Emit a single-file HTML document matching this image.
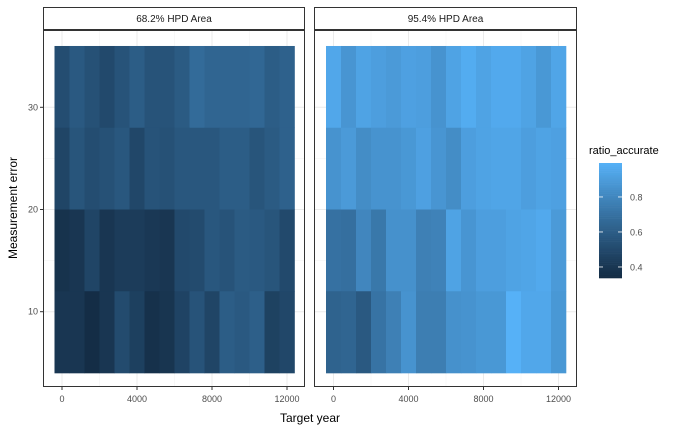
<!DOCTYPE html>
<html><head><meta charset="utf-8"><style>
body{margin:0;background:#fff;}
svg{display:block;font-family:"Liberation Sans",sans-serif;}
</style></head><body>
<svg id="c" width="700" height="432" xmlns="http://www.w3.org/2000/svg"></svg>
<script>
const years=[0,800,1600,2400,3200,4000,4800,5600,6400,7200,8000,8800,9600,10400,11200,12000];
const errors=[32,24,16,8];
const panels=["68.2% HPD Area","95.4% HPD Area"];
const vals68=[
[.52,.58,.54,.50,.55,.60,.55,.55,.59,.67,.64,.64,.64,.65,.60,.62],
[.48,.56,.52,.54,.57,.49,.55,.54,.57,.57,.57,.60,.60,.56,.59,.62],
[.38,.40,.48,.40,.43,.43,.41,.40,.50,.51,.57,.55,.59,.58,.56,.50],
[.40,.40,.35,.40,.51,.45,.37,.39,.47,.55,.48,.60,.58,.61,.46,.49]];
const vals95=[
[.95,.87,.93,.91,.89,.92,.91,.86,.93,.97,.93,.96,.96,.93,.88,.94],
[.86,.89,.83,.86,.86,.88,.92,.87,.83,.91,.93,.94,.94,.91,.93,.92],
[.70,.69,.80,.73,.85,.85,.77,.78,.93,.87,.91,.91,.93,.94,.96,.89],
[.63,.64,.58,.71,.77,.86,.76,.76,.85,.86,.88,.88,1.0,.95,.95,.88]];
const xTicks=[0,4000,8000,12000];
const yTicks=[10,20,30];
const legendTicks=[0.4,0.6,0.8];
const vmin=0.337,vmax=0.994;

const NS="http://www.w3.org/2000/svg";
const svg=document.getElementById('c');
function el(t,a,p){const e=document.createElementNS(NS,t);for(const k in a)e.setAttribute(k,a[k]);(p||svg).appendChild(e);return e;}
// Lab color interpolation
function h2r(h){return [1,3,5].map(i=>parseInt(h.substr(i,2),16)/255);}
function lin(c){return c<=0.04045?c/12.92:Math.pow((c+0.055)/1.055,2.4);}
function unlin(c){return c<=0.0031308?12.92*c:1.055*Math.pow(c,1/2.4)-0.055;}
function toLab(h){const [r,g,b]=h2r(h).map(lin);let X=(0.4124*r+0.3576*g+0.1805*b)/0.95047,Y=0.2126*r+0.7152*g+0.0722*b,Z=(0.0193*r+0.1192*g+0.9505*b)/1.08883;
 const f=t=>t>0.008856?Math.cbrt(t):7.787*t+16/116;const fx=f(X),fy=f(Y),fz=f(Z);return [116*fy-16,500*(fx-fy),200*(fy-fz)];}
function fromLab(L,a,b){const fy=(L+16)/116,fx=fy+a/500,fz=fy-b/200;const fi=t=>t*t*t>0.008856?t*t*t:(t-16/116)/7.787;
 const X=fi(fx)*0.95047,Y=fi(fy),Z=fi(fz)*1.08883;
 const r=3.2406*X-1.5372*Y-0.4986*Z,g=-0.9689*X+1.8758*Y+0.0415*Z,bb=0.0557*X-0.2040*Y+1.0570*Z;
 return 'rgb('+[r,g,bb].map(c=>Math.round(Math.max(0,Math.min(1,unlin(c)))*255)).join(',')+')';}
const lo=toLab('#132B43'),hi=toLab('#56B1F7');
function col(v){let t=(v-vmin)/(vmax-vmin);t=Math.max(0,Math.min(1,t));return fromLab(lo[0]+t*(hi[0]-lo[0]),lo[1]+t*(hi[1]-lo[1]),lo[2]+t*(hi[2]-lo[2]));}

const yS=v=>209.5-(v-20)*10.22;
const panelX=[{x0:43,x1:305,z:62},{x0:314,x1:577,z:333.5}];
const pxPerYr=0.01875;
const data=[vals68,vals95];
panelX.forEach((p,pi)=>{
 const xS=v=>p.z+v*pxPerYr;
 const g=el('g',{});
 el('rect',{x:p.x0,y:30,width:p.x1-p.x0,height:357,fill:'#fff'},g);
 // grid
 for(let i=0;i<xTicks.length;i++){
  el('line',{x1:xS(xTicks[i]),x2:xS(xTicks[i]),y1:30,y2:387,stroke:'#ebebeb','stroke-width':1},g);
  if(i<xTicks.length-1){const m=(xTicks[i]+xTicks[i+1])/2;el('line',{x1:xS(m),x2:xS(m),y1:30,y2:387,stroke:'#f3f3f3','stroke-width':0.6},g);}
 }
 for(let i=0;i<yTicks.length;i++){
  el('line',{x1:p.x0,x2:p.x1,y1:yS(yTicks[i]),y2:yS(yTicks[i]),stroke:'#ebebeb','stroke-width':1},g);
  if(i<yTicks.length-1){const m=(yTicks[i]+yTicks[i+1])/2;el('line',{x1:p.x0,x2:p.x1,y1:yS(m),y2:yS(m),stroke:'#f3f3f3','stroke-width':0.6},g);}
 }
 // tiles
 const tw=800*pxPerYr;
 data[pi].forEach((row,ri)=>{row.forEach((v,ci)=>{
  const r=el('rect',{x:xS(years[ci])-tw/2,y:yS(errors[ri]+4),width:tw+0.3,height:yS(errors[ri]-4)-yS(errors[ri]+4)+0.3,fill:col(v)},g);
  
  
 });});
 el('rect',{x:p.x0+0.5,y:30.5,width:p.x1-p.x0-1,height:356,fill:'none',stroke:'#333','stroke-width':1},g);
 // strip
 const s=el('g',{});
 el('rect',{x:p.x0+0.5,y:7.5,width:p.x1-p.x0-1,height:22,fill:'#fff',stroke:'#333','stroke-width':1},s);
 const t=el('text',{x:(p.x0+p.x1)/2,y:22,'text-anchor':'middle','font-size':10,fill:'#1a1a1a'},s);t.textContent=panels[pi];
 // x ticks
 xTicks.forEach(v=>{el('line',{x1:xS(v),x2:xS(v),y1:387,y2:390,stroke:'#333'});
  const tt=el('text',{x:xS(v),y:402,'text-anchor':'middle','font-size':9,fill:'#4d4d4d',});tt.textContent=v;});
});
yTicks.forEach(v=>{el('line',{x1:40,x2:43,y1:yS(v),y2:yS(v),stroke:'#333'});
 const tt=el('text',{x:38,y:yS(v)+3,'text-anchor':'end','font-size':9,fill:'#4d4d4d',});tt.textContent=v;});
let t=el('text',{x:310,y:422,'text-anchor':'middle','font-size':12,fill:'#000',});t.textContent='Target year';
t=el('text',{x:0,y:0,transform:'translate(17,208) rotate(-90)','text-anchor':'middle','font-size':12,fill:'#000',});t.textContent='Measurement error';
// legend
const lg=el('g',{});
t=el('text',{x:589,y:154,'font-size':11,fill:'#000'},lg);t.textContent='ratio_accurate';
const ly=v=>278-(v-vmin)/(vmax-vmin)*115;
for(let i=0;i<60;i++){const v0=vmin+(vmax-vmin)*i/60,v1=vmin+(vmax-vmin)*(i+1)/60;
 el('rect',{x:599,y:ly(v1),width:23,height:ly(v0)-ly(v1)+0.3,fill:col((v0+v1)/2)},lg);}
legendTicks.forEach(v=>{el('line',{x1:599,x2:603,y1:ly(v),y2:ly(v),stroke:'#fff','stroke-width':0.8},lg);
 el('line',{x1:618,x2:622,y1:ly(v),y2:ly(v),stroke:'#fff','stroke-width':0.8},lg);
 const tt=el('text',{x:630,y:ly(v)+3.5,'font-size':9,fill:'#4d4d4d'},lg);tt.textContent=v.toFixed(1);});
</script>
</body></html>
